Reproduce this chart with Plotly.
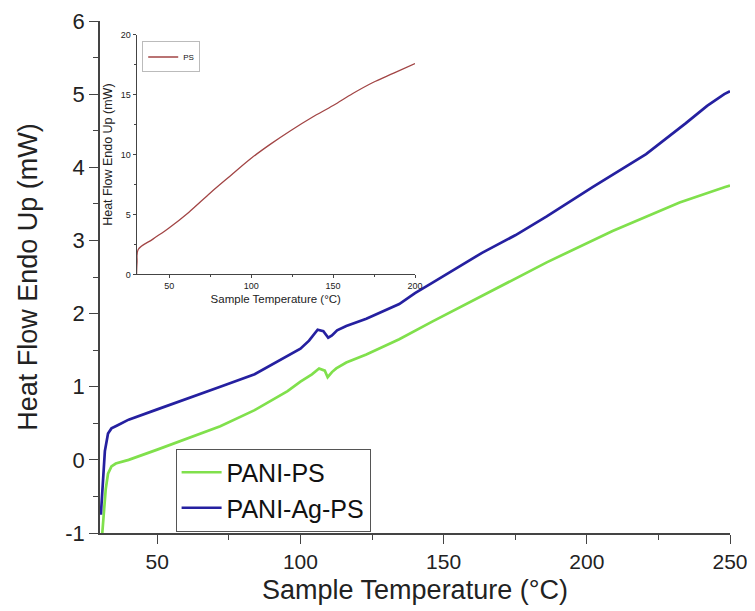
import plotly.graph_objects as go

# ---- data ----
ag_x = [30.3, 30.7, 31.2, 31.7, 32.8, 34, 36, 40, 50, 61, 72, 84, 89, 95, 100, 103, 106, 108,
        109.7, 111, 112.8, 116, 123, 134.5, 140, 146, 152, 163.4, 175, 186, 202, 210, 220.7,
        234.5, 242, 248, 250]
ag_y = [-0.75, -0.5, -0.15, 0.12, 0.36, 0.43, 0.47, 0.55, 0.69, 0.84, 1.0, 1.17, 1.28, 1.42,
        1.52, 1.63, 1.78, 1.76, 1.67, 1.7, 1.77, 1.83, 1.93, 2.13, 2.28, 2.42, 2.56, 2.83,
        3.07, 3.33, 3.73, 3.92, 4.18, 4.6, 4.84, 5.0, 5.04]

ps_main_x = [30.8, 31.3, 32, 32.8, 34, 35.5, 40, 50, 54, 60, 72, 84, 95.5, 100, 104, 106.5,
             108.5, 109.5, 111, 112.5, 116, 123, 134.5, 146, 163.4, 186, 209, 232.4,
             248.3, 250]
ps_main_y = [-1.0, -0.7, -0.4, -0.19, -0.09, -0.05, 0.0, 0.14, 0.2, 0.28, 0.46, 0.68, 0.94,
             1.07, 1.17, 1.25, 1.22, 1.13, 1.2, 1.25, 1.33, 1.44, 1.65, 1.89, 2.24, 2.7,
             3.13, 3.52, 3.73, 3.75]

ps_x = [30, 30.3, 31, 40, 50, 62, 75, 87, 100, 112, 124, 137, 150, 162, 174, 187, 200]
ps_y = [0, 1.0, 2.08, 2.95, 3.9, 5.2, 6.8, 8.2, 9.7, 10.9, 12.0, 13.1, 14.1, 15.1, 16.0,
        16.8, 17.6]

main_xticks = [50, 100, 150, 200, 250]
main_yticks = [-1, 0, 1, 2, 3, 4, 5, 6]
main_ytext = ["-1", "0", "1", "2", "3", "4", "5", "6"]
inset_xticks = [50, 100, 150, 200]
inset_yticks = [0, 5, 10, 15, 20]

FONT = "Liberation Sans, Arial, sans-serif"
GREEN = "#80e04c"
BLUE = "#2520a0"
BROWN = "#a24545"
AXC = "#444444"

fig = go.Figure()
fig.add_trace(go.Scatter(x=ps_main_x, y=ps_main_y, mode="lines", name="PANI-PS",
                         line=dict(color=GREEN, width=2.7), legend="legend"))
fig.add_trace(go.Scatter(x=ag_x, y=ag_y, mode="lines", name="PANI-Ag-PS",
                         line=dict(color=BLUE, width=2.7), legend="legend"))
fig.add_trace(go.Scatter(x=ps_x, y=ps_y, mode="lines", name="PS", xaxis="x2", yaxis="y2",
                         line=dict(color=BROWN, width=1.3, shape="spline"), legend="legend2"))

fig.update_layout(
    width=747, height=603,
    margin=dict(l=92, r=25, t=13, b=78, autoexpand=False),
    paper_bgcolor="white", plot_bgcolor="white",
    font=dict(family=FONT, color="#222222"),
    xaxis=dict(range=[30, 250], tickvals=main_xticks, ticks="outside", ticklen=9,
               tickwidth=1.3, tickcolor=AXC, showline=True, linecolor=AXC, linewidth=1.5,
               showgrid=False, zeroline=False, tickfont=dict(size=21), automargin=False,
               ticklabeloverflow="allow",
               minor=dict(tickvals=[75, 125, 175, 225], ticks="outside", ticklen=5,
                          tickcolor=AXC, showgrid=False),
               title=dict(text="Sample Temperature (°C)", font=dict(size=27), standoff=8)),
    yaxis=dict(range=[-1, 6], tickvals=main_yticks, ticktext=main_ytext, ticks="outside",
               ticklen=9, tickwidth=1.3, tickcolor=AXC, showline=True, linecolor=AXC,
               linewidth=1.5, showgrid=False, zeroline=False, tickfont=dict(size=22),
               automargin=False, ticklabeloverflow="allow",
               minor=dict(tickvals=[-0.5, 0.5, 1.5, 2.5, 3.5, 4.5, 5.5], ticks="outside",
                          ticklen=5, tickcolor=AXC, showgrid=False),
               title=dict(text="Heat Flow Endo Up (mW)", font=dict(size=27), standoff=20)),
    xaxis2=dict(domain=[0.058, 0.5], anchor="y2", range=[30, 200], tickvals=inset_xticks,
                ticks="outside", ticklen=3, tickcolor=AXC, showline=True, linecolor=AXC,
                linewidth=1, showgrid=False, zeroline=False, tickfont=dict(size=9),
                automargin=False, ticklabeloverflow="allow",
                minor=dict(tickvals=[75, 125, 175], ticks="outside", ticklen=2,
                           tickcolor=AXC, showgrid=False),
                title=dict(text="Sample Temperature (°C)", font=dict(size=11.5), standoff=4)),
    yaxis2=dict(domain=[0.505, 0.973], anchor="x2", range=[0, 20], tickvals=inset_yticks,
                ticks="outside", ticklen=3, tickcolor=AXC, showline=True, linecolor=AXC,
                linewidth=1, showgrid=False, zeroline=False, tickfont=dict(size=9),
                automargin=False, ticklabeloverflow="allow",
                minor=dict(tickvals=[2.5, 7.5, 12.5, 17.5], ticks="outside", ticklen=2,
                           tickcolor=AXC, showgrid=False),
                title=dict(text="Heat Flow Endo Up (mW)", font=dict(size=12.5), standoff=5)),
    legend=dict(x=0.12, y=0.165, xanchor="left", yanchor="top", bgcolor="white",
                bordercolor="#555555", borderwidth=1, font=dict(size=25, color="#111111"),
                tracegroupgap=0, itemwidth=40),
    legend2=dict(x=0.067, y=0.96, xanchor="left", yanchor="top", bgcolor="white",
                 bordercolor="#bbbbbb", borderwidth=1, font=dict(size=8, color="#111111")),
)

fig.write_html("out.html")
